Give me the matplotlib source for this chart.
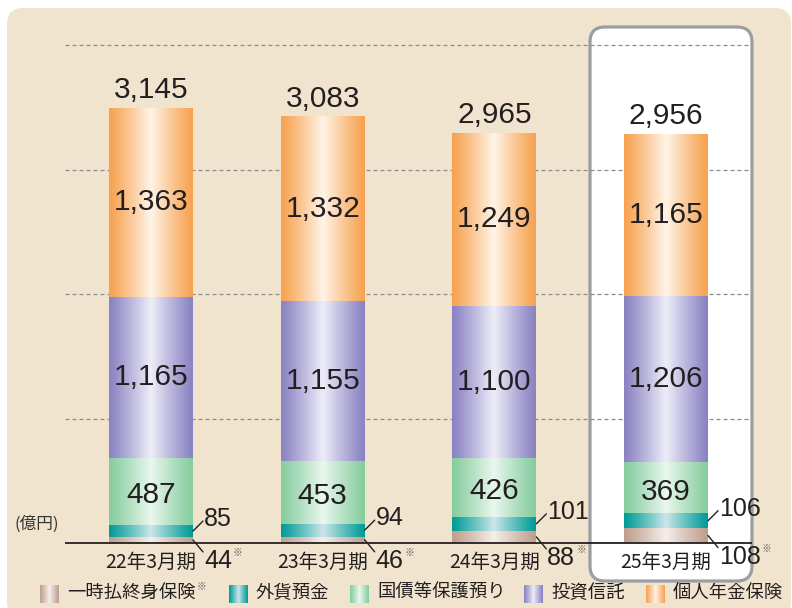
import numpy as np
import matplotlib
matplotlib.use("Agg")
import matplotlib.pyplot as plt
from matplotlib.patches import FancyBboxPatch
from matplotlib import font_manager

# ---------------- data ----------------
periods = ['22年3月期', '23年3月期', '24年3月期', '25年3月期']
insurance = [44, 46, 88, 108]        # 一時払終身保険※
fx_deposit = [85, 94, 101, 106]      # 外貨預金
jgb = [487, 453, 426, 369]           # 国債等保護預り
funds = [1165, 1155, 1100, 1206]     # 投資信託
pension = [1363, 1332, 1249, 1165]   # 個人年金保険
totals = [3145, 3083, 2965, 2956]
grid_vals = [900, 1800, 2700, 3600]
legend_labels = ['一時払終身保険※', '外貨預金', '国債等保護預り', '投資信託', '個人年金保険']

# ---------------- styles ----------------
names = {f.name for f in font_manager.fontManager.ttflist}
NUM = 'Liberation Sans'
NARROW = 'Liberation Sans Narrow' if 'Liberation Sans Narrow' in names else 'Liberation Sans'
small_size = 19.5 if NARROW == 'Liberation Sans Narrow' else 18.0
CJK = ['Noto Sans CJK JP', 'DejaVu Sans']
TXT = '#231F20'

grad_cols = [
    ('#BF9F8E', '#F7EFEB'),   # insurance
    ('#009C98', '#CDE6EA'),   # fx
    ('#86CD9E', '#EAF7EF'),   # jgb
    ('#8A82C2', '#EEEEF9'),   # funds
    ('#F7A24F', '#FFF4E8'),   # pension
]

def gradient(edge, center, n=96):
    e = np.array(matplotlib.colors.to_rgb(edge))
    c = np.array(matplotlib.colors.to_rgb(center))
    t = np.linspace(-1, 1, n)
    w = (1 - np.abs(t))[:, None] ** 1.1
    return (e * (1 - w) + c * w)[None, :, :]

W, H = 792, 608
fig = plt.figure(figsize=(W / 100, H / 100), dpi=100)

# background axes in pixel coordinates
bg = fig.add_axes([0, 0, 1, 1])
bg.set_xlim(0, W)
bg.set_ylim(H, 0)
bg.axis('off')
bg.add_patch(FancyBboxPatch((7, 8), 784, 610, boxstyle='round,pad=0,rounding_size=16',
                            fc='#F1E4CF', ec='none', zorder=0))
bg.add_patch(FancyBboxPatch((590, 27), 162, 554, boxstyle='round,pad=0,rounding_size=15',
                            fc='white', ec='#9A9DA1', lw=2.3, zorder=1))
bg.text(37, 524, '(億円)', family=CJK, fontsize=12, color='#333333', ha='center', va='center')

star_after = []
leg_sq_x = [40, 229, 350, 524, 646]
for lx, lab, (e, c) in zip(leg_sq_x, legend_labels, grad_cols):
    bg.imshow(gradient(e, c), extent=(lx, lx + 19, 603, 585), aspect='auto',
              interpolation='bilinear', zorder=3)
    t = bg.text(lx + 27, 593, lab.rstrip('※'), family=CJK, fontsize=13.2, color=TXT,
                ha='left', va='center', zorder=3)
    if lab.endswith('※'):
        star_after.append((t, -3))
bg.set_xlim(0, W)
bg.set_ylim(H, 0)

# main axes
ax = fig.add_axes([0, 0, 1, 1])
ax.patch.set_alpha(0)
ax.axis('off')
k = 435 / 3145.0
x = np.arange(len(periods))
xlim = (-151 / 171.67, (W - 151) / 171.67)
ylim = (-(H - 543) / k, 543 / k)
bw = 84 / 171.67

ax.hlines(grid_vals, -0.501, 3.489, colors='#8C8C8C', linestyles=(0, (3.2, 2.4)), lw=0.9, zorder=1)
ax.hlines(0, -0.501, 3.501, colors='#231F20', lw=1.3, zorder=5)

series = [insurance, fx_deposit, jgb, funds, pension]
bottoms = np.zeros(len(periods))
for s, (e, c) in zip(series, grad_cols):
    s = np.array(s, dtype=float)
    img = gradient(e, c)
    for i in range(len(periods)):
        ax.imshow(img, extent=(x[i] - bw / 2, x[i] + bw / 2, bottoms[i], bottoms[i] + s[i]),
                  aspect='auto', interpolation='bilinear', zorder=3)
    bottoms += s
ax.set_xlim(*xlim)
ax.set_ylim(*ylim)

pt = 72 / 100.0  # px -> pt

for i in range(len(periods)):
    ax.annotate(f'{totals[i]:,}', (x[i], bottoms[i]), xytext=(0, 10 * pt), textcoords='offset points',
                ha='center', va='baseline', family=NUM, fontsize=21.5, color=TXT, zorder=6)
    b = insurance[i] + fx_deposit[i]
    for s, dy in ((jgb, -4), (funds, 0), (pension, 0)):
        ax.annotate(f'{s[i]:,}', (x[i], b + s[i] / 2), xytext=(0, dy * pt), textcoords='offset points',
                    ha='center', va='center', family=NUM, fontsize=21.5, color=TXT, zorder=6)
        b += s[i]

for i in range(len(periods)):
    xr = x[i] + bw / 2
    yfx = insurance[i] + fx_deposit[i] / 2
    ax.annotate('', (xr, yfx), xytext=(10 * pt, 10 * pt), textcoords='offset points',
                arrowprops=dict(arrowstyle='-', lw=1.0, color=TXT, shrinkA=0, shrinkB=0), zorder=6)
    ax.annotate(f'{fx_deposit[i]}', (xr, yfx), xytext=(11 * pt, 12 * pt), textcoords='offset points',
                ha='left', va='center', family=NARROW, fontsize=small_size, color=TXT, zorder=6)
    yin = insurance[i] / 2
    ax.annotate('', (xr, yin), xytext=(10 * pt, -12 * pt), textcoords='offset points',
                arrowprops=dict(arrowstyle='-', lw=1.0, color=TXT, shrinkA=0, shrinkB=0), zorder=6)
    t = ax.annotate(f'{insurance[i]}', (xr, yin), xytext=(11 * pt, -21 * pt), textcoords='offset points',
                    ha='left', va='center', family=NARROW, fontsize=small_size, color=TXT, zorder=6)
    star_after.append((t, -4))
    ax.annotate(periods[i], (x[i], 0), xytext=(0, -19 * pt), textcoords='offset points',
                ha='center', va='center', family=CJK, fontsize=14, color=TXT, zorder=6)

fig.canvas.draw()
r = fig.canvas.get_renderer()
for t, dy in star_after:
    bb = t.get_window_extent(r)
    fig.text((bb.x1 + 1) / W, (bb.y1 + dy) / H, '※', family=CJK, fontsize=7,
             color='#666666', ha='left', va='center')

fig.savefig('out.png', dpi=100)
